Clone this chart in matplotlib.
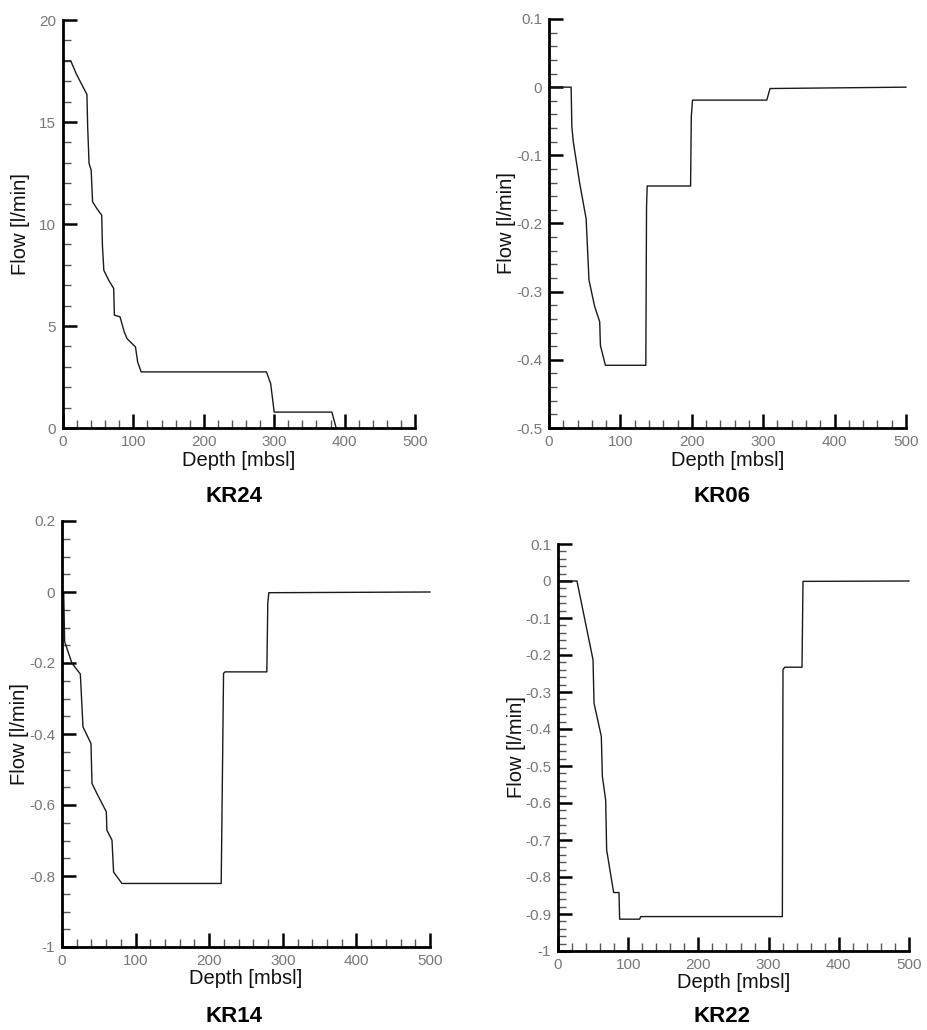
import matplotlib
matplotlib.use("Agg")
import matplotlib.pyplot as plt
from matplotlib.ticker import MultipleLocator, FuncFormatter

plt.rcParams['font.family'] = ['Liberation Sans', 'DejaVu Sans']
plt.rcParams['axes.unicode_minus'] = False

# flow profiles along each borehole
kr24_depth = [0, 11, 19, 34, 35, 37, 40, 42, 48, 55, 56, 58, 65, 72, 73, 81, 87, 91, 103, 106, 111, 289, 295, 300, 382, 388]
kr24_flow = [18, 18, 17.35, 16.35, 14.8, 12.97, 12.64, 11.09, 10.76, 10.43, 8.96, 7.73, 7.24, 6.84, 5.53, 5.45, 4.71, 4.38, 3.97, 3.24, 2.75, 2.75, 2.17, 0.78, 0.78, 0]

kr06_depth = [0, 31, 32, 34, 43, 52, 56, 64, 71, 72, 79, 135.6, 136.6, 137.5, 198.3, 199.3, 201, 305, 309.6, 500]
kr06_flow = [0, 0, -0.058, -0.08, -0.141, -0.193, -0.283, -0.322, -0.344, -0.379, -0.408, -0.408, -0.176, -0.145, -0.145, -0.043, -0.019, -0.019, -0.002, 0]

kr14_depth = [0, 2.3, 3.6, 13.6, 24.9, 28.5, 39.4, 40.7, 47.5, 60.2, 61, 67.9, 70.1, 81.4, 216.3, 218.1, 219.5, 221.7, 278.3, 279.6, 281, 500]
kr14_flow = [0, 0, -0.14, -0.201, -0.231, -0.38, -0.427, -0.539, -0.568, -0.619, -0.671, -0.699, -0.789, -0.821, -0.821, -0.492, -0.229, -0.225, -0.225, -0.032, -0.002, 0]

kr22_depth = [0, 27, 49.9, 51.3, 61.7, 63.2, 67.9, 69.3, 79.3, 86.9, 87.8, 116.3, 117.8, 319.6, 320.5, 322.9, 347.6, 349, 500]
kr22_flow = [0, 0, -0.213, -0.33, -0.42, -0.528, -0.592, -0.727, -0.842, -0.842, -0.914, -0.914, -0.907, -0.907, -0.24, -0.233, -0.233, -0.001, 0]

W, H = 927, 1030
fig = plt.figure(figsize=(W / 100, H / 100), dpi=100)

# (name, depth, flow, box in px [left, top, right, bottom], ylim, major, minor, title pos)
panels = [
    ("KR24", kr24_depth, kr24_flow, (63, 20, 415, 428), (0, 20), 5, 1, (234, 497)),
    ("KR06", kr06_depth, kr06_flow, (549, 19, 906, 428), (-0.5, 0.1), 0.1, 0.02, (722, 497)),
    ("KR14", kr14_depth, kr14_flow, (62, 521, 430, 947), (-1, 0.2), 0.2, 0.05, (234, 1017)),
    ("KR22", kr22_depth, kr22_flow, (558, 544, 909, 951), (-1, 0.1), 0.1, 0.02, (722, 1017)),
]

fmt = FuncFormatter(lambda v, pos: '%g' % round(v, 6))

for name, depth, flow, box, ylim, major, minor, tpos in panels:
    l, t, r, b = box
    ax = fig.add_axes([l / W, 1 - b / H, (r - l) / W, (b - t) / H])
    ax.plot(depth, flow, color='#1a1a1a', lw=1.0, clip_on=False)
    ax.set_xlim(0, 500)
    ax.set_ylim(*ylim)
    ax.xaxis.set_major_locator(MultipleLocator(100))
    ax.xaxis.set_minor_locator(MultipleLocator(20))
    ax.yaxis.set_major_locator(MultipleLocator(major))
    ax.yaxis.set_minor_locator(MultipleLocator(minor))
    ax.yaxis.set_major_formatter(fmt)
    ax.xaxis.set_major_formatter(fmt)
    for s in ('top', 'right'):
        ax.spines[s].set_visible(False)
    for s in ('left', 'bottom'):
        ax.spines[s].set_linewidth(2.0)
    ax.tick_params(which='major', direction='in', length=10, width=1.8, color='black',
                   labelsize=11, labelcolor='#777777', pad=5)
    ax.tick_params(which='minor', direction='in', length=6, width=1.0, color='#555555')
    ax.set_xlabel('Depth [mbsl]', fontsize=14.5, color='#111111', va='center')
    ax.xaxis.set_label_coords(0.5, -32 / (b - t))
    ax.set_ylabel('Flow [l/min]', fontsize=14.5, color='#111111', va='center')
    ax.yaxis.set_label_coords(-42 / (r - l), 0.5)
    fig.text(tpos[0] / W, 1 - tpos[1] / H, name, ha='center', va='center',
             fontsize=16, fontweight='bold')

fig.savefig('out.png', dpi=100, facecolor='white')
